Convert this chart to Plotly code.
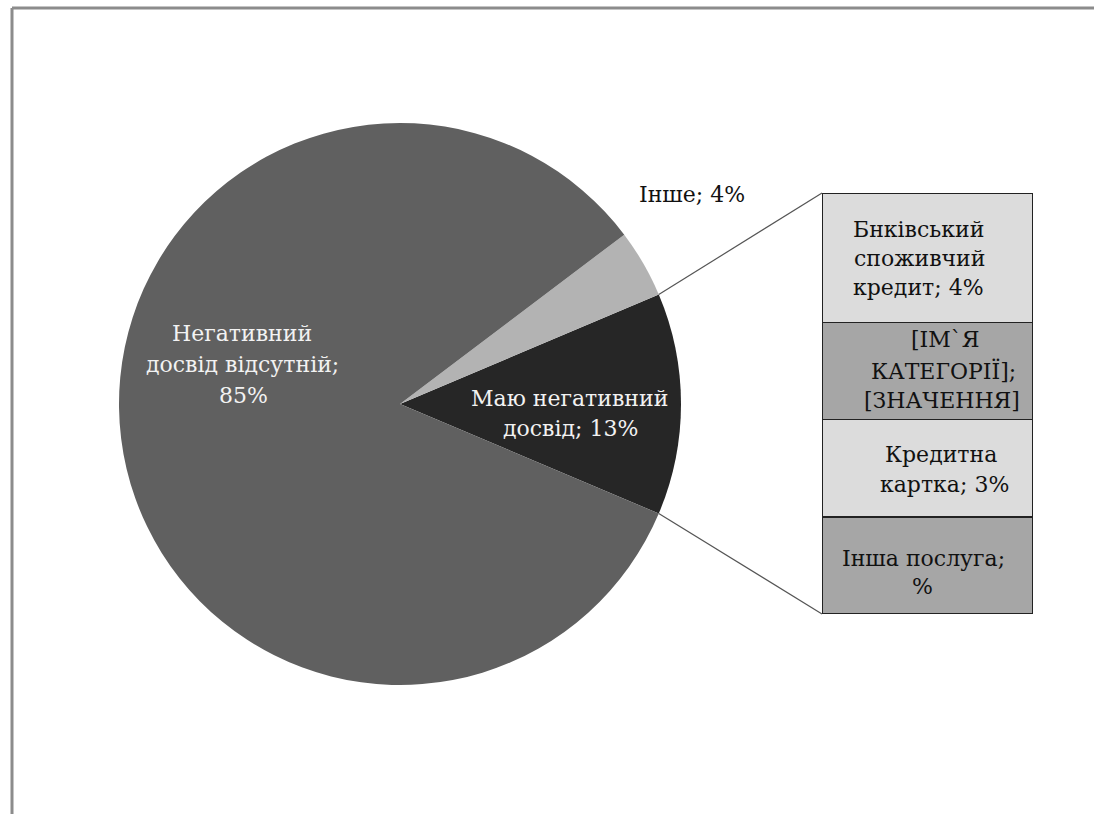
import math
import plotly.graph_objects as go

W, H = 1094, 814

# ---- data ----
pie_labels = ["Маю негативний досвід", "Інше", "Негативний досвід відсутній"]
pie_values = [13, 4, 85]
pie_colors = ["#262626", "#b3b3b3", "#606060"]
# label lines for each slice
pie_text_lines = [["Маю негативний", "досвід; 13%"], ["Інше; 4%"],
                  ["Негативний", "досвід відсутній;", "85%"]]

bar_labels = ["Інша послуга", "Кредитна картка", "[ІМ`Я КАТЕГОРІЇ]", "Бнківський споживчий кредит"]
bar_values = [3, 3, 3, 4]
bar_text_lines = [["Інша послуга;", "%"], ["Кредитна", "картка; 3%"],
                  ["[ІМ`Я", "КАТЕГОРІЇ];", "[ЗНАЧЕННЯ]"], ["Бнківський", "споживчий", "кредит; 4%"]]
bar_colors = ["#a6a6a6", "#dcdcdc", "#a6a6a6", "#dcdcdc"]

FONT = "DejaVu Serif"

# ---- geometry (pixels) ----
pcx, pcy, pr = 400, 404, 281          # pie centre / radius (pixels, y from top)
pie_dom_x = [(pcx - pr) / W, (pcx + pr) / W]
pie_dom_y = [(H - pcy - pr) / H, (H - pcy + pr) / H]
bar_px = [822, 1033]
bar_py = [193, 614]
bar_dom_x = [bar_px[0] / W, bar_px[1] / W]
bar_dom_y = [(H - bar_py[1]) / H, (H - bar_py[0]) / H]

total = sum(pie_values)
half = pie_values[0] / total * 360 / 2
rotation = 90 - half   # counterclockwise: first slice ends at the rotation angle

fig = go.Figure()
fig.add_trace(go.Pie(
    labels=pie_labels, values=pie_values, sort=False, direction="counterclockwise",
    rotation=rotation, marker=dict(colors=pie_colors, line=dict(width=0)),
    textinfo="none", hoverinfo="label+value", domain=dict(x=pie_dom_x, y=pie_dom_y),
    showlegend=False,
))

for lab, v, c in zip(bar_labels, bar_values, bar_colors):
    fig.add_trace(go.Bar(
        x=[0], y=[v], name=lab, marker=dict(color=c, line=dict(color="#222222", width=1.5)),
        width=1, showlegend=False, hoverinfo="name+y",
    ))

fig.update_layout(
    width=W, height=H, margin=dict(l=0, r=0, t=0, b=0),
    paper_bgcolor="white", plot_bgcolor="rgba(0,0,0,0)", barmode="stack",
    xaxis=dict(domain=bar_dom_x, range=[-0.5, 0.5], visible=False, fixedrange=True),
    yaxis=dict(domain=bar_dom_y, range=[0, sum(bar_values)], visible=False, fixedrange=True),
    font=dict(family=FONT),
)

# connector lines from pie edge to bar corners
def pie_pt(deg):
    a = math.radians(deg)
    return (pcx + pr * math.cos(a)) / W, (H - pcy + pr * math.sin(a)) / H

x0, y0 = pie_pt(half)
x1, y1 = pie_pt(-half)
fig.add_shape(type="line", xref="paper", yref="paper", x0=x0, y0=y0, x1=bar_dom_x[0], y1=bar_dom_y[1],
              line=dict(color="#555555", width=1.2))
fig.add_shape(type="line", xref="paper", yref="paper", x0=x1, y0=y1, x1=bar_dom_x[0], y1=bar_dom_y[0],
              line=dict(color="#555555", width=1.2))

# outer frame (top and left visible)
fig.add_shape(type="line", xref="paper", yref="paper", x0=12 / W, y0=1 - 8 / H, x1=1, y1=1 - 8 / H,
              line=dict(color="#8c8c8c", width=3))
fig.add_shape(type="line", xref="paper", yref="paper", x0=12 / W, y0=1 - 8 / H, x1=12 / W, y1=0,
              line=dict(color="#8c8c8c", width=3))

def add_line(txt, px, py, col):
    fig.add_annotation(x=px / W, y=1 - py / H, xref="paper", yref="paper", text=txt, showarrow=False,
                       xanchor="center", yanchor="middle",
                       font=dict(family=FONT, size=22, color=col))

# pie labels (line centres in pixels)
pie_line_pos = [[(569, 398), (570, 429)], [(692, 194)], [(242, 333), (242, 364), (243, 395)]]
pie_text_cols = ["#f2f2f2", "#111111", "#f2f2f2"]
for lines, poss, col in zip(pie_text_lines, pie_line_pos, pie_text_cols):
    for t, (px, py) in zip(lines, poss):
        add_line(t, px, py, col)

# bar labels
bar_line_pos = [[(923, 558), (922, 586)], [(941, 454), (944, 484)],
                [(945, 339), (943, 371), (942, 400)], [(918, 229), (919, 258), (918, 287)]]
for lines, poss in zip(bar_text_lines, bar_line_pos):
    for t, (px, py) in zip(lines, poss):
        add_line(t, px, py, "#111111")

fig.write_html("out.html")
